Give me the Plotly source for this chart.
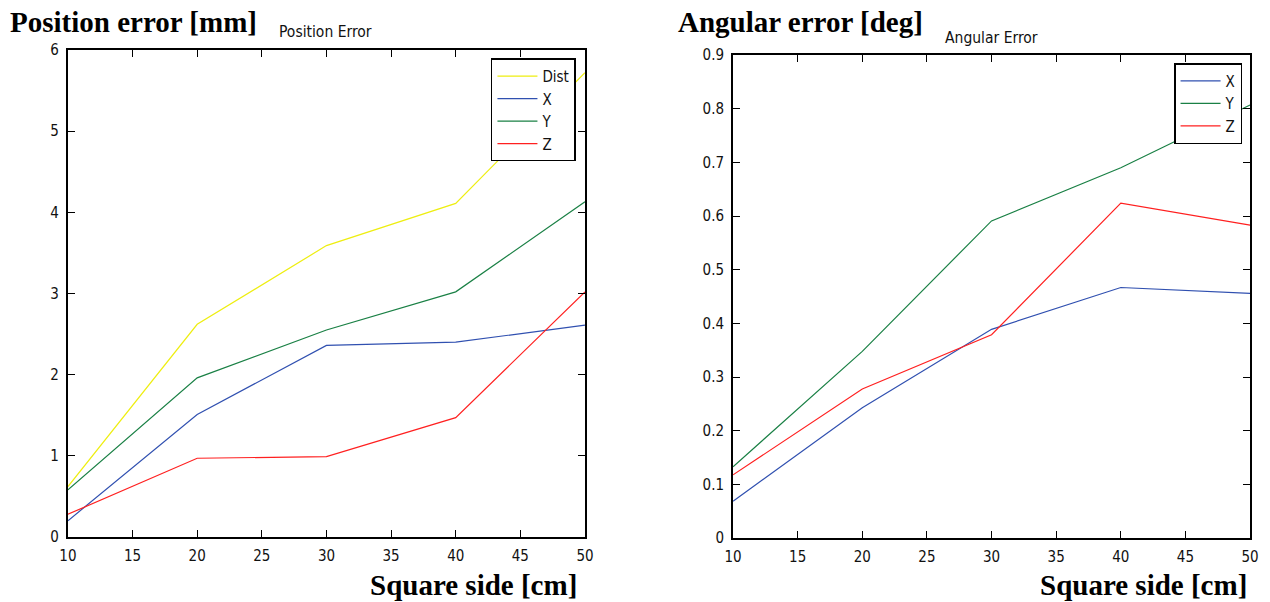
import plotly.graph_objects as go

# Square side lengths [cm]
side_cm = [10, 20, 30, 40, 50]

# Position error [mm]
pos_dist = [0.62, 2.62, 3.59, 4.11, 5.72]
pos_x = [0.20, 1.51, 2.36, 2.40, 2.61]
pos_y = [0.58, 1.96, 2.55, 3.02, 4.13]
pos_z = [0.28, 0.97, 0.99, 1.47, 3.02]

# Angular error [deg]
ang_x = [0.069, 0.243, 0.389, 0.467, 0.456]
ang_y = [0.133, 0.348, 0.591, 0.690, 0.807]
ang_z = [0.118, 0.278, 0.379, 0.624, 0.583]

x_ticks = [10, 15, 20, 25, 30, 35, 40, 45, 50]
pos_ticks = [0, 1, 2, 3, 4, 5, 6]
ang_ticks = [0, 0.1, 0.2, 0.3, 0.4, 0.5, 0.6, 0.7, 0.8, 0.9]
ang_tick_text = ["0", "0.1", "0.2", "0.3", "0.4", "0.5", "0.6", "0.7", "0.8", "0.9"]

YELLOW = "#eeee10"
BLUE = "#3050b0"
GREEN = "#1a8045"
RED = "#ff2020"

NARROW = "DejaVu Sans Condensed, DejaVu Sans, sans-serif"
TICK_FONT = dict(family=NARROW, size=15, color="#111")
SERIF = "Liberation Serif, DejaVu Serif, serif"

fig = go.Figure()

for name, vals, col in [("Dist", pos_dist, YELLOW), ("X", pos_x, BLUE),
                        ("Y", pos_y, GREEN), ("Z", pos_z, RED)]:
    fig.add_trace(go.Scatter(x=side_cm, y=vals, mode="lines", name=name,
                             line=dict(color=col, width=1.2),
                             xaxis="x", yaxis="y", legend="legend"))

for name, vals, col in [("X", ang_x, BLUE), ("Y", ang_y, GREEN), ("Z", ang_z, RED)]:
    fig.add_trace(go.Scatter(x=side_cm, y=vals, mode="lines", name=name,
                             line=dict(color=col, width=1.2),
                             xaxis="x2", yaxis="y2", legend="legend2"))

axis_common = dict(showline=True, linecolor="black", linewidth=2, mirror="ticks",
                   ticks="inside", ticklen=7, tickcolor="black", tickwidth=1,
                   showgrid=False, zeroline=False, tickfont=TICK_FONT,
                   automargin=False)

legend_common = dict(xanchor="right", yanchor="top",
                     bgcolor="white", bordercolor="black", borderwidth=1.5,
                     font=dict(family=NARROW, size=15, color="#111"),
                     tracegroupgap=0, itemwidth=40)

fig.update_layout(
    width=1270, height=602,
    margin=dict(l=0, r=0, t=0, b=0, autoexpand=False),
    paper_bgcolor="white", plot_bgcolor="white",
    showlegend=True,
    xaxis=dict(domain=[0.0535, 0.4606], range=[10, 50], tickvals=x_ticks,
               anchor="y", ticklabelstandoff=4, **axis_common),
    yaxis=dict(domain=[0.108, 0.917], range=[0, 6], tickvals=pos_ticks,
               anchor="x", ticklabelstandoff=4, **axis_common),
    xaxis2=dict(domain=[0.5772, 0.9843], range=[10, 50], tickvals=x_ticks,
                anchor="y2", ticklabelstandoff=4, **axis_common),
    yaxis2=dict(domain=[0.106, 0.9086], range=[0, 0.9], tickvals=ang_ticks,
                ticktext=ang_tick_text, anchor="x2", ticklabelstandoff=4, **axis_common),
    legend=dict(x=0.4535, y=0.903, **legend_common),
    legend2=dict(x=0.978, y=0.895, **legend_common),
    annotations=[
        dict(text="<b>Position error [mm]</b>", x=8, y=22, xref="paper", yref="paper",
             showarrow=False, xanchor="left", yanchor="middle",
             font=dict(family=SERIF, size=29, color="black")),
        dict(text="Position Error", x=325, y=32, xref="paper", yref="paper",
             showarrow=False, xanchor="center", yanchor="middle",
             font=dict(family=NARROW, size=15.5, color="#111")),
        dict(text="<b>Square side [cm]</b>", x=579, y=585, xref="paper", yref="paper",
             showarrow=False, xanchor="right", yanchor="middle",
             font=dict(family=SERIF, size=29, color="black")),
        dict(text="<b>Angular error [deg]</b>", x=676, y=22, xref="paper", yref="paper",
             showarrow=False, xanchor="left", yanchor="middle",
             font=dict(family=SERIF, size=29, color="black")),
        dict(text="Angular Error", x=991, y=38, xref="paper", yref="paper",
             showarrow=False, xanchor="center", yanchor="middle",
             font=dict(family=NARROW, size=15.5, color="#111")),
        dict(text="<b>Square side [cm]</b>", x=1249, y=585, xref="paper", yref="paper",
             showarrow=False, xanchor="right", yanchor="middle",
             font=dict(family=SERIF, size=29, color="black")),
    ],
)

# Annotation positions above are given in pixels; convert to paper fractions.
W, H = 1270, 602
for ann in fig.layout.annotations:
    ann.x = ann.x / W
    ann.y = 1 - ann.y / H

fig.write_html("out.html")
